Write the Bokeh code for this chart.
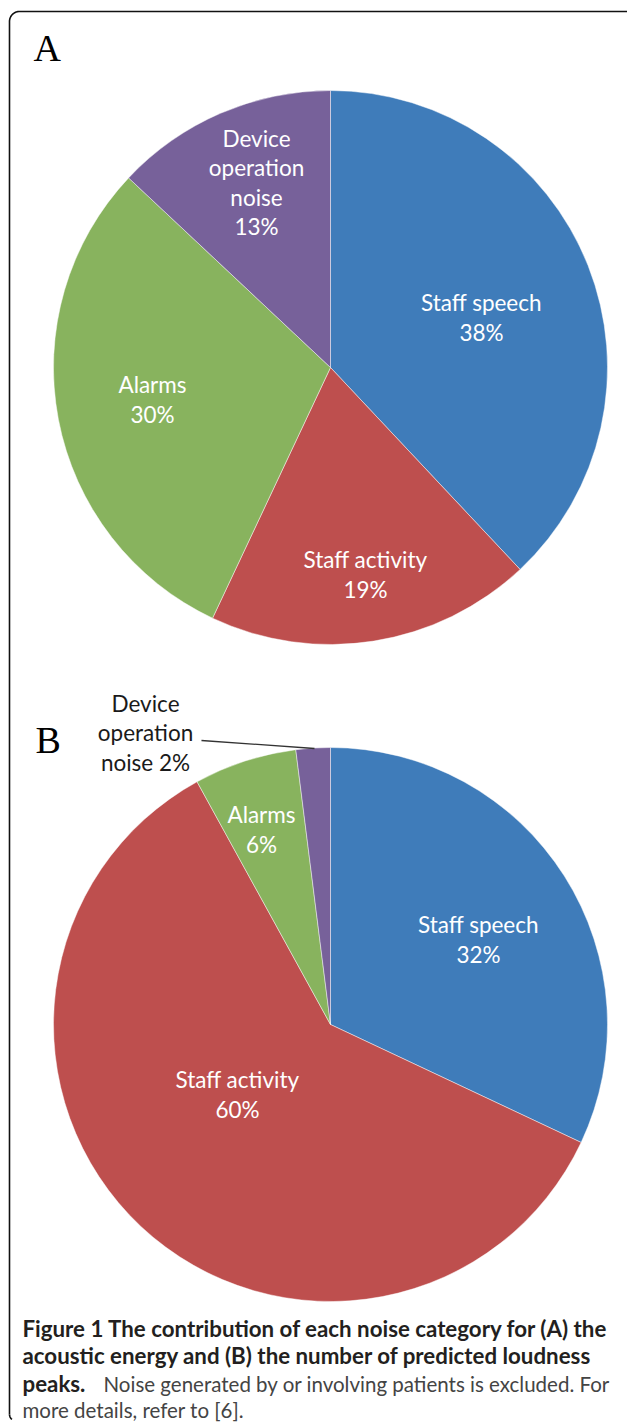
import numpy as np
from bokeh.plotting import figure
from bokeh.models import Range1d
from bokeh.core.properties import value
from bokeh.embed import file_html
from bokeh.resources import INLINE

# ---- data ----
categories = ["Staff speech", "Staff activity", "Alarms", "Device operation noise"]
energy_pct = [38, 19, 30, 13]          # panel A
peaks_pct = [32, 60, 6, 2]             # panel B
colors = ["#3F7CBA", "#BE4F4E", "#88B35E", "#77619A"]
labels_a = [["Staff speech", "38%"], ["Staff activity", "19%"], ["Alarms", "30%"],
            ["Device", "operation", "noise", "13%"]]
labels_b = [["Staff speech", "32%"], ["Staff activity", "60%"], ["Alarms", "6%"],
            ["Device", "operation", "noise 2%"]]
caption_bold = ["Figure 1 The contribution of each noise category for (A) the",
                "acoustic energy and (B) the number of predicted loudness",
                "peaks."]
caption_regular = ["Noise generated by or involving patients is excluded. For",
                   "more details, refer to [6]."]

# ---- layout (pixel coordinates of the page; y is negated) ----
W, H = 627, 1422
p = figure(width=W, height=H, x_range=Range1d(0, W), y_range=Range1d(-H, 0),
           output_backend="svg", toolbar_location=None, min_border=0)
p.axis.visible = False
p.grid.visible = False
p.outline_line_color = None
p.background_fill_color = "white"
p.border_fill_color = "white"

FONT = value("Lato")
LINE_GAP = 29.5

# frame: left line + rounded top-left corner + top line
r = 10
th = np.linspace(np.pi, np.pi / 2, 20)
fx = [9, 9] + list(9 + r + r * np.cos(th)) + [640]
fy = [1414, 11 + r] + list(11 + r - r * np.sin(th)) + [11]
p.line(fx, [-v for v in fy], line_color="#111111", line_width=1.6)
hb = np.linspace(np.pi, 1.3 * np.pi, 8)
p.line(list(15 + 6 * np.cos(hb)), [-(1414 - 6 * np.sin(t)) for t in hb],
       line_color="#111111", line_width=1.6)


def pie(cx, cy, rad, pcts):
    start = np.pi / 2
    for pct, col in zip(pcts, colors):
        end = start - pct / 100 * 2 * np.pi
        p.wedge(x=[cx], y=[-cy], radius=rad, start_angle=end, end_angle=start,
                fill_color=col, line_color="white", line_alpha=0.45, line_width=1)
        start = end


pie(330, 367, 277, energy_pct)
pie(330, 1024, 277, peaks_pct)

pos_a = [(481, 317), (365, 574), (152, 399), (256, 182)]
pos_b = [(478, 939), (237, 1094), (261, 829), (145, 732)]


def label(lines, x, y, color):
    n = len(lines)
    ys = [-(y + (i - (n - 1) / 2) * LINE_GAP) for i in range(n)]
    p.text(x=[x] * n, y=ys, text=lines, text_color=color, text_font=FONT,
           text_font_size="22.5px", text_align="center", text_baseline="middle")


for lab, (x, y) in zip(labels_a, pos_a):
    label(lab, x, y, "white")
for i, (lab, (x, y)) in enumerate(zip(labels_b, pos_b)):
    label(lab, x, y, "white" if i < 3 else "#1a1a1a")

# leader line for the small slice in B
p.line([201, 314], [-740, -748], line_color="#333333", line_width=1.3)

# panel letters
p.text(x=[33], y=[-47], text=["A"], text_font=value("Liberation Serif"),
       text_font_size="38px", text_color="black", text_baseline="middle")
p.text(x=[35], y=[-739], text=["B"], text_font=value("Liberation Serif"),
       text_font_size="38px", text_color="black", text_baseline="middle")

# caption
cap_y = [1328, 1355, 1383]
for t, y in zip(caption_bold, cap_y):
    p.text(x=[22], y=[-y], text=[t], text_font=FONT, text_font_style="bold",
           text_font_size="22.3px", text_color="#231F20", text_baseline="middle")
p.text(x=[103], y=[-1383], text=[caption_regular[0]], text_font=FONT,
       text_font_size="20.5px", text_color="#444444", text_baseline="middle")
p.text(x=[22], y=[-1409], text=[caption_regular[1]], text_font=FONT,
       text_font_size="20.5px", text_color="#444444", text_baseline="middle")

open("out.html", "w").write(file_html(p, INLINE))
